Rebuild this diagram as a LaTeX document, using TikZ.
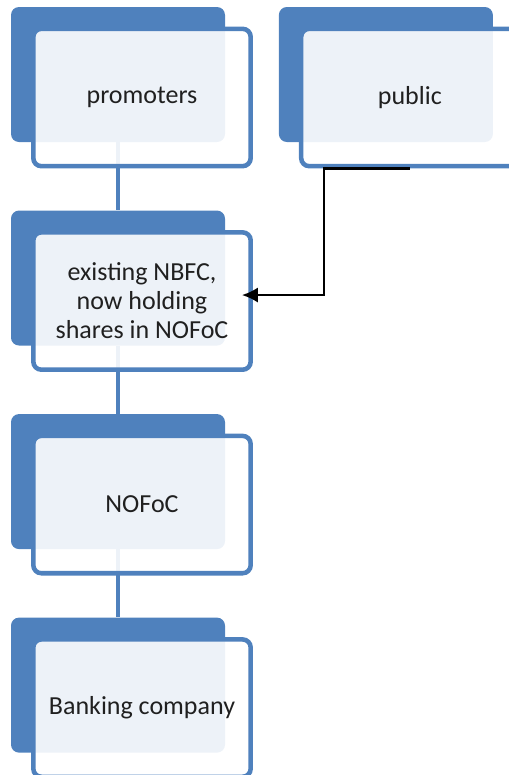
\documentclass[tikz,border=0pt]{standalone}
\usepackage{fontspec}
\setmainfont{Carlito}
\usetikzlibrary{arrows.meta,positioning,calc}
\definecolor{cblue}{RGB}{79,129,189}
\definecolor{ctext}{RGB}{32,32,32}

\begin{document}
\begin{tikzpicture}[x=0.75pt,y=-0.75pt,node distance=51pt and 40pt,
  back/.style={fill=cblue,rounded corners=6pt,minimum width=160.5pt,minimum height=101.25pt,inner sep=0pt},
  front/.style={draw=cblue,line width=3.4pt,fill=white,fill opacity=0.9,text opacity=1,rounded corners=6pt,
    minimum width=163pt,minimum height=103pt,align=center,text=ctext,font=\fontsize{19.5}{21.75}\selectfont},
  link/.style={cblue,line width=3.6pt},
  feed/.style={-{Latex[length=12pt,width=11.5pt]},line width=1.8pt,black}]
  \useasboundingbox (0,0) rectangle (509,775);
  % back plates
  \node[back] (promB) at (118,74.5) {};
  \node[back,right=of promB] (pubB) {};
  \node[back,below=of promB] (nbfcB) {};
  \node[back,below=of nbfcB] (nofocB) {};
  \node[back,below=of nofocB] (bankB) {};
  \draw[link] (promB.south) -- (nbfcB.north);
  \draw[link] (nbfcB.south) -- (nofocB.north);
  \draw[link] (nofocB.south) -- (bankB.north);
  % front cards
  \node[front] (promF) at ($(promB)+(24,23)$) {promoters};
  \node[front] (pubF) at ($(pubB)+(24,23)$) {public};
  \node[front] (nbfcF) at ($(nbfcB)+(24,23)$) {existing NBFC,\\now holding\\shares in NOFoC};
  \node[front] (nofocF) at ($(nofocB)+(24,23)$) {NOFoC};
  \node[front] (bankF) at ($(bankB)+(24,23)$) {Banking company};
  \coordinate (hub) at ($(pubF.south)+(-86,0)$);
  \coordinate (tip) at ($(nbfcF.east)+(-11,-6)$);
  \draw[feed] (pubF.south) -- (hub) |- (tip);
\end{tikzpicture}
\end{document}
